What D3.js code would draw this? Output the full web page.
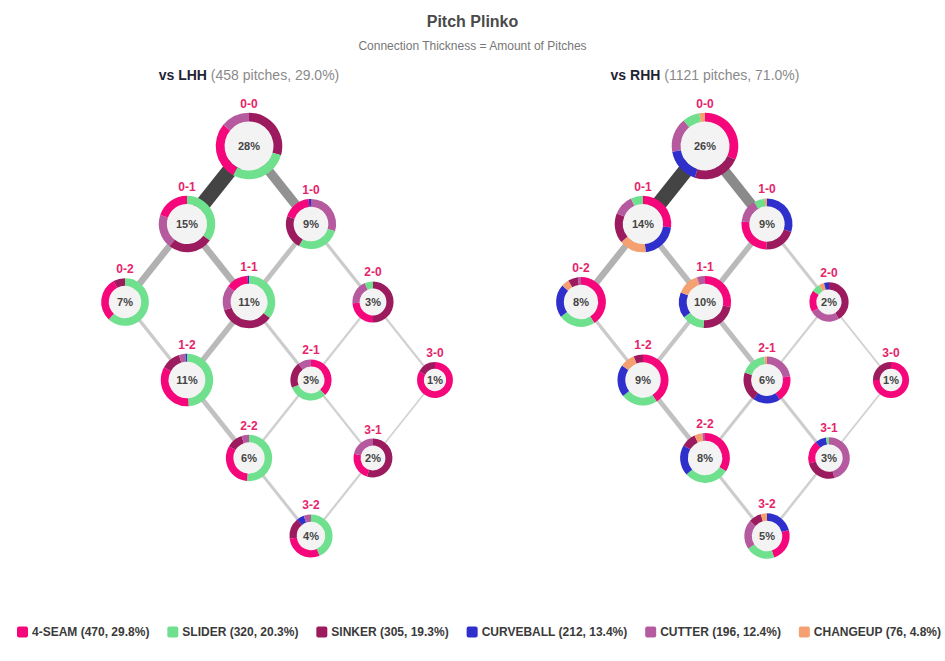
<!DOCTYPE html>
<html>
<head>
<meta charset="utf-8">
<script src="https://cdn.jsdelivr.net/npm/d3@7"></script>
<style>
  body { margin: 0; background: #fff; }
  text { font-family: "Liberation Sans", Arial, Helvetica, sans-serif; }
</style>
</head>
<body>
<div id="chart"></div>
<script>
// pitch types + legend numbers
const pitchTypes = ["4-SEAM", "SLIDER", "SINKER", "CURVEBALL", "CUTTER", "CHANGEUP"];
const pitchColors = ["#f5077b", "#6ee08e", "#9c1a5e", "#2f2fcc", "#b65a9f", "#f4a070"];
const pitchTotals = [470, 320, 305, 212, 196, 76];
const pitchShares = [29.8, 20.3, 19.3, 13.4, 12.4, 4.8];

// panels
const panels = ["LHH", "RHH"];
const panelPitches = [458, 1121];
const panelShares = [29.0, 71.0];

// counts (balls-strikes)
const counts = ["0-0", "0-1", "1-0", "0-2", "1-1", "2-0", "1-2", "2-1", "3-0", "2-2", "3-1", "3-2"];
const lhhCountPct = [28, 15, 9, 7, 11, 3, 11, 3, 1, 6, 2, 4];
const rhhCountPct = [26, 14, 9, 8, 10, 2, 9, 6, 1, 8, 3, 5];

// pitch mix at each count, in the order drawn (clockwise from 12)
const lhhMix = [
  [["SINKER", 29.5], ["SLIDER", 28.5], ["4-SEAM", 28], ["CUTTER", 14]],
  [["SLIDER", 35], ["SINKER", 25.5], ["CUTTER", 19.7], ["4-SEAM", 19.8]],
  [["CUTTER", 29.7], ["SLIDER", 28.3], ["SINKER", 22], ["4-SEAM", 18.5], ["CURVEBALL", 1.5]],
  [["SLIDER", 62], ["4-SEAM", 30], ["SINKER", 8]],
  [["SLIDER", 35.5], ["SINKER", 34.5], ["CUTTER", 15.3], ["4-SEAM", 14], ["CURVEBALL", 0.8]],
  [["SINKER", 50], ["4-SEAM", 24], ["CUTTER", 19.5], ["SLIDER", 6.5]],
  [["SLIDER", 49], ["4-SEAM", 34], ["SINKER", 12], ["CUTTER", 4], ["CURVEBALL", 1]],
  [["4-SEAM", 38], ["SLIDER", 31], ["SINKER", 20.5], ["CUTTER", 10.5]],
  [["4-SEAM", 83], ["SINKER", 17]],
  [["SLIDER", 51.4], ["4-SEAM", 32], ["SINKER", 11.3], ["CUTTER", 5.3]],
  [["SINKER", 55], ["4-SEAM", 23.5], ["CUTTER", 21.5]],
  [["SLIDER", 43.5], ["4-SEAM", 29.5], ["SINKER", 16], ["CURVEBALL", 5.5], ["CUTTER", 5.5]]
];
const rhhMix = [
  [["4-SEAM", 31.7], ["SINKER", 23.3], ["CURVEBALL", 17.2], ["CUTTER", 16.7], ["SLIDER", 8.3], ["CHANGEUP", 2.8]],
  [["4-SEAM", 27], ["CURVEBALL", 21.5], ["CHANGEUP", 15.5], ["SINKER", 17], ["CUTTER", 12], ["SLIDER", 7]],
  [["CURVEBALL", 30], ["SINKER", 20.5], ["4-SEAM", 26], ["CUTTER", 15], ["SLIDER", 7], ["CHANGEUP", 1.5]],
  [["4-SEAM", 41], ["SLIDER", 24], ["CURVEBALL", 21.5], ["CHANGEUP", 5], ["SINKER", 6.5], ["CUTTER", 2]],
  [["4-SEAM", 28], ["SINKER", 23], ["SLIDER", 14], ["CURVEBALL", 16], ["CHANGEUP", 14], ["CUTTER", 5]],
  [["SINKER", 41.7], ["CUTTER", 25], ["4-SEAM", 18], ["SLIDER", 7], ["CHANGEUP", 4.2], ["CURVEBALL", 4.1]],
  [["4-SEAM", 41], ["SLIDER", 23.3], ["CURVEBALL", 20.3], ["CHANGEUP", 9.5], ["SINKER", 5.9]],
  [["CUTTER", 22.5], ["4-SEAM", 18.3], ["CURVEBALL", 19], ["SINKER", 20.3], ["SLIDER", 18], ["CHANGEUP", 1.9]],
  [["4-SEAM", 75], ["SINKER", 25]],
  [["4-SEAM", 34], ["SLIDER", 29.4], ["CURVEBALL", 20], ["SINKER", 9.7], ["CHANGEUP", 5.2], ["CUTTER", 1.7]],
  [["CUTTER", 45.8], ["SINKER", 25], ["4-SEAM", 18.3], ["CURVEBALL", 8.6], ["SLIDER", 2.3]],
  [["CURVEBALL", 20.7], ["4-SEAM", 24.2], ["SLIDER", 20.7], ["CUTTER", 20.8], ["SINKER", 9.2], ["CHANGEUP", 4.4]]
];

// connections between counts (pitches that moved from one to the other)
const linkFrom = ["0-0", "0-0", "0-1", "0-1", "1-0", "1-0", "0-2", "1-1", "1-1", "2-0", "2-0", "1-2", "2-1", "2-1", "3-0", "2-2", "3-1"];
const linkTo   = ["0-1", "1-0", "0-2", "1-1", "1-1", "2-0", "1-2", "1-2", "2-1", "2-1", "3-0", "2-2", "2-2", "3-1", "3-1", "3-2", "3-2"];
const lhhLinkPitches = [69, 41, 27, 27, 18, 10, 11, 22, 10, 5, 5, 18, 6, 5, 3, 9, 5];
const rhhLinkPitches = [157, 101, 60, 52, 50, 20, 25, 35, 45, 10, 9, 40, 20, 20, 8, 22, 15];

const width = 945, height = 661;

const svg = d3.select("#chart")
  .append("svg")
  .attr("width", width)
  .attr("height", height);

const color = d3.scaleOrdinal().domain(pitchTypes).range(pitchColors);

// title
svg.append("text")
  .attr("x", width / 2).attr("y", 27)
  .attr("text-anchor", "middle")
  .attr("font-size", "16px").attr("font-weight", "bold")
  .attr("fill", "#4a4a4a")
  .text("Pitch Plinko");

svg.append("text")
  .attr("x", width / 2).attr("y", 50)
  .attr("text-anchor", "middle")
  .attr("font-size", "12px")
  .attr("fill", "#777")
  .text("Connection Thickness = Amount of Pitches");

// layout scales
const panelX = d3.scalePoint().domain(panels).range([249, 705]);
const xStep = d3.scaleLinear().domain([-1, 1]).range([-62, 62]);   // balls - strikes
const yStep = d3.scaleLinear().domain([0, 5]).range([146, 536]);    // balls + strikes

const parseCount = c => c.split("-").map(Number);

const pie = d3.pie().sort(null).value(d => d[1]);

function drawPanel(p, i, pct, mix, linkVals) {
  const cx = panelX(p);
  const g = svg.append("g").attr("class", "panel-" + p);

  const pos = {};
  counts.forEach(c => {
    const [b, s] = parseCount(c);
    pos[c] = [cx + xStep(b - s), yStep(b + s)];
  });

  // panel heading
  const head = g.append("text")
    .attr("x", cx).attr("y", 80)
    .attr("text-anchor", "middle")
    .attr("font-size", "14px");
  head.append("tspan").attr("font-weight", "bold").attr("fill", "#1f2333").text("vs " + p);
  head.append("tspan").attr("fill", "#8a8a8a").text(` (${panelPitches[i]} pitches, ${panelShares[i].toFixed(1)}%)`);

  const maxLink = d3.max(linkVals);
  const linkWidth = d3.scaleLinear().domain([0, maxLink]).range([1.2, 15]);
  const linkColor = d3.scalePow().exponent(1.5).domain([0, maxLink]).range(["#d4d4d4", "#444444"]);

  g.append("g").selectAll("line")
    .data(linkVals.map((v, k) => ({ source: linkFrom[k], target: linkTo[k], value: v })))
    .join("line")
    .attr("x1", d => pos[d.source][0]).attr("y1", d => pos[d.source][1])
    .attr("x2", d => pos[d.target][0]).attr("y2", d => pos[d.target][1])
    .attr("stroke", d => linkColor(d.value))
    .attr("stroke-width", d => linkWidth(d.value));

  const r = d3.scaleSqrt().domain([0, d3.max(pct)]).range([14.4, 33.3]);

  const nodes = g.append("g").selectAll("g")
    .data(counts.map((c, k) => ({ count: c, pct: pct[k], mix: mix[k] })))
    .join("g")
    .attr("transform", d => `translate(${pos[d.count][0]},${pos[d.count][1]})`);

  nodes.each(function(d) {
    const outer = r(d.pct);
    const inner = outer * 0.87 - 4.5;
    const node = d3.select(this);
    const arc = d3.arc().innerRadius(inner).outerRadius(outer);

    node.append("circle").attr("r", inner).attr("fill", "#f3f3f3");
    node.selectAll("path")
      .data(pie(d.mix))
      .join("path")
      .attr("d", arc)
      .attr("fill", a => color(a.data[0]));

    node.append("text")
      .attr("y", -outer - 5)
      .attr("text-anchor", "middle")
      .attr("font-size", "12px").attr("font-weight", "bold")
      .attr("fill", "#e6246a")
      .text(d.count);

    node.append("text")
      .attr("dy", "0.35em")
      .attr("text-anchor", "middle")
      .attr("font-size", "11px").attr("font-weight", "bold")
      .attr("fill", "#444")
      .text(d.pct + "%");
  });
}

drawPanel("LHH", 0, lhhCountPct, lhhMix, lhhLinkPitches);
drawPanel("RHH", 1, rhhCountPct, rhhMix, rhhLinkPitches);

// legend
const legend = svg.append("g").attr("class", "legend");
const items = legend.selectAll("g")
  .data(pitchTypes.map((t, k) => ({ type: t, total: pitchTotals[k], share: pitchShares[k] })))
  .join("g");

items.append("rect")
  .attr("x", 0).attr("y", -5.5)
  .attr("width", 11).attr("height", 11)
  .attr("rx", 2)
  .attr("fill", d => color(d.type));

items.append("text")
  .attr("x", 15).attr("dy", "0.35em")
  .attr("font-size", "12px").attr("font-weight", "bold")
  .attr("fill", "#3a3a3a")
  .text(d => `${d.type} (${d.total}, ${d.share}%)`);

const itemWidths = [];
items.each(function() { itemWidths.push(this.getBBox().width); });
const legendLeft = 17, legendRight = 941;
const gap = (legendRight - legendLeft - d3.sum(itemWidths)) / (itemWidths.length - 1);
let lx = legendLeft;
items.attr("transform", (d, k) => {
  const t = `translate(${lx},632)`;
  lx += itemWidths[k] + gap;
  return t;
});
</script>
</body>
</html>
